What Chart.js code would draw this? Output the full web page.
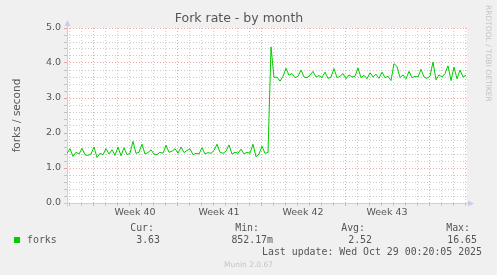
<!DOCTYPE html>
<html>
<head>
<meta charset="utf-8">
<title>Fork rate - by month</title>
<script src="https://cdn.jsdelivr.net/npm/chart.js@4/dist/chart.umd.min.js"></script>
<style>
html, body { margin: 0; padding: 0; background: #f0f0f0; }
#wrap { position: relative; width: 497px; height: 275px; overflow: hidden; }
#wrap canvas { position: absolute; left: 0; top: 0; }
.mono { position: absolute; font-family: "DejaVu Sans Mono", monospace; font-size: 9.9px; color: #555; line-height: 12px; white-space: pre; }
.swatch { position: absolute; left: 14px; top: 237px; width: 6px; height: 6px; background: #00cc00; }
.brand { position: absolute; font-family: "DejaVu Sans", sans-serif; font-size: 7.5px; color: #c4c4c4; white-space: nowrap; }
#rrd { left: 484px; top: 5px; writing-mode: vertical-rl; }
#ver { left: 0; width: 497px; top: 260px; text-align: center; }
</style>
</head>
<body>
<div id="wrap">
    <canvas id="forkChart" width="497" height="275"></canvas>
    <div class="brand" id="rrd">RRDTOOL / TOBI OETIKER</div>
    <div class="swatch"></div>
    <div class="mono" style="left:27px; top:234px;">forks</div>
    <div class="mono" id="lastUpdate" style="right:15px; top:246px;"></div>
    <div class="brand" id="ver">Munin 2.0.67</div>
</div>
<script>
// Samples every 6 hours (forks per second)
const forksValues = [
    1.42, 1.55, 1.33, 1.45, 1.40, 1.56, 1.38, 1.36, 1.40, 1.60,
    1.30, 1.42, 1.38, 1.55, 1.40, 1.52, 1.36, 1.60, 1.35, 1.58,
    1.38, 1.42, 1.76, 1.42, 1.45, 1.68, 1.40, 1.44, 1.52, 1.40,
    1.38, 1.45, 1.42, 1.65, 1.45, 1.48, 1.55, 1.42, 1.60, 1.44,
    1.50, 1.55, 1.38, 1.42, 1.40, 1.58, 1.40, 1.44, 1.42, 1.50,
    1.68, 1.45, 1.42, 1.48, 1.66, 1.40, 1.45, 1.42, 1.54, 1.40,
    1.45, 1.42, 1.68, 1.32, 1.40, 1.62, 1.42, 1.44,
    4.46,
    3.58, 3.60, 3.48, 3.62, 3.85, 3.65, 3.70, 3.58, 3.62, 3.80,
    3.60, 3.58, 3.65, 3.76, 3.60, 3.64, 3.58, 3.74, 3.56, 3.60,
    3.84, 3.58, 3.62, 3.70, 3.55, 3.66, 3.60, 3.62, 3.86, 3.58,
    3.65, 3.55, 3.72, 3.60, 3.68, 3.56, 3.74, 3.58, 3.62, 3.50,
    3.98, 3.90, 3.58, 3.66, 3.55, 3.76, 3.58, 3.62, 3.60, 3.82,
    3.60, 3.56, 3.62, 4.03, 3.52, 3.66, 3.60, 3.70, 3.92, 3.50,
    3.88, 3.55, 3.80, 3.60, 3.65
];
const sampleStepDays = 0.25;

// Time axis in days from the left edge of the graph
const rangeDays = 33.333;
const weekStartDays = [2.167, 9.167, 16.167, 23.167, 30.167];
const weekLabelDays = [5.667, 12.667, 19.667, 26.667];
const weekLabels = ['Week 40', 'Week 41', 'Week 42', 'Week 43'];

const yMax = 5;
const yStep = 0.2;

// Legend numbers
const statNames = ['Cur:', 'Min:', 'Avg:', 'Max:'];
const statValues = ['3.63', '852.17m', '2.52', '16.65'];
const lastUpdate = 'Last update: Wed Oct 29 00:20:05 2025';

const minorColor = 'rgba(140,140,140,0.45)';
const majorColor = 'rgba(225,80,80,0.5)';
const axisColor = '#c8cef0';

const near = (a, b) => Math.abs(a - b) < 1e-3;

// one grid line per day, plus label-only ticks in the middle of each week
const dayLines = [];
for (let d = weekStartDays[0] - 2; d < rangeDays; d += 1) dayLines.push(+d.toFixed(3));
const xTicks = dayLines.concat(weekLabelDays).sort((a, b) => a - b);

const isWeekStart = v => weekStartDays.some(d => near(d, v));
const isLabelTick = v => weekLabelDays.some(d => near(d, v));

const points = forksValues.map((v, i) => ({ x: i * sampleStepDays, y: v }));

const muninPlugin = {
    id: 'munin',
    beforeDraw(chart) {
        const { ctx, chartArea: a } = chart;
        ctx.save();
        ctx.fillStyle = '#ffffff';
        ctx.fillRect(a.left, a.top, a.right - a.left, a.bottom - a.top);
        ctx.restore();
    },
    beforeDatasetsDraw(chart) {
        const { ctx, chartArea: a } = chart;
        const x0 = Math.round(a.left) + 0.5;
        const y0 = Math.round(a.bottom) + 0.5;
        ctx.save();
        ctx.strokeStyle = axisColor;
        ctx.fillStyle = axisColor;
        ctx.lineWidth = 1;
        ctx.beginPath();
        ctx.moveTo(x0, y0 + 3);
        ctx.lineTo(x0, a.top - 4);
        ctx.moveTo(x0 - 3, y0);
        ctx.lineTo(a.right + 3, y0);
        ctx.stroke();
        // arrow heads
        ctx.beginPath();
        ctx.moveTo(x0, a.top - 8);
        ctx.lineTo(x0 - 3, a.top - 2);
        ctx.lineTo(x0 + 3, a.top - 2);
        ctx.closePath();
        ctx.fill();
        ctx.beginPath();
        ctx.moveTo(a.right + 7, y0);
        ctx.lineTo(a.right + 1, y0 - 3);
        ctx.lineTo(a.right + 1, y0 + 3);
        ctx.closePath();
        ctx.fill();
        ctx.restore();
    }
};

const tickFont = { family: 'DejaVu Sans', size: 9.5 };

new Chart(document.getElementById('forkChart'), {
    type: 'line',
    data: {
        datasets: [{
            label: 'forks',
            data: points,
            borderColor: '#00cc00',
            borderWidth: 1,
            pointRadius: 0,
            tension: 0,
            fill: false
        }]
    },
    options: {
        responsive: false,
        animation: false,
        layout: { padding: { left: 11, right: 30, top: 0, bottom: 0 } },
        plugins: {
            legend: { display: false },
            tooltip: { enabled: false },
            title: {
                display: true,
                text: 'Fork rate - by month',
                color: '#555',
                font: { family: 'DejaVu Sans', size: 12.5, weight: 'normal', lineHeight: 1.2 },
                padding: { top: 11, bottom: 2 }
            }
        },
        scales: {
            x: {
                type: 'linear',
                min: 0,
                max: rangeDays,
                afterBuildTicks: scale => { scale.ticks = xTicks.map(v => ({ value: v })); },
                afterFit: scale => { scale.height = 72; },
                ticks: {
                    autoSkip: false,
                    maxRotation: 0,
                    padding: 1,
                    color: '#555',
                    font: tickFont,
                    callback: v => {
                        const i = weekLabelDays.findIndex(d => near(d, v));
                        return i >= 0 ? weekLabels[i] : '';
                    }
                },
                grid: {
                    lineWidth: 1,
                    tickLength: 3,
                    color: ctx => isLabelTick(ctx.tick.value) ? 'rgba(0,0,0,0)' : (isWeekStart(ctx.tick.value) ? majorColor : minorColor),
                    tickColor: ctx => isLabelTick(ctx.tick.value) ? 'rgba(0,0,0,0)' : (isWeekStart(ctx.tick.value) ? majorColor : minorColor)
                },
                border: { display: false, dash: [1, 2] }
            },
            y: {
                min: 0,
                max: yMax,
                afterFit: scale => { scale.width = 56; },
                ticks: {
                    stepSize: yStep,
                    autoSkip: false,
                    padding: 3,
                    color: '#555',
                    font: tickFont,
                    callback: v => near(v, Math.round(v)) ? Math.round(v).toFixed(1) : ''
                },
                title: {
                    display: true,
                    text: 'forks / second',
                    color: '#555',
                    font: { family: 'DejaVu Sans', size: 10.5 },
                    padding: { top: 0, bottom: 0 }
                },
                grid: {
                    lineWidth: 1,
                    tickLength: 3,
                    color: ctx => near(ctx.tick.value, Math.round(ctx.tick.value)) ? majorColor : minorColor,
                    tickColor: ctx => near(ctx.tick.value, Math.round(ctx.tick.value)) ? majorColor : minorColor
                },
                border: { display: false, dash: [1, 2] }
            }
        }
    },
    plugins: [muninPlugin]
});

// Legend columns under the graph, right aligned like Munin
const wrap = document.getElementById('wrap');
const headRight = [154, 259, 365, 470];
const valueRight = [160, 273, 372, 477];
statNames.forEach((name, i) => {
    const h = document.createElement('div');
    h.className = 'mono';
    h.style.right = (497 - headRight[i]) + 'px';
    h.style.top = '222px';
    h.textContent = name;
    wrap.appendChild(h);
    const v = document.createElement('div');
    v.className = 'mono';
    v.style.right = (497 - valueRight[i]) + 'px';
    v.style.top = '234px';
    v.textContent = statValues[i];
    wrap.appendChild(v);
});
document.getElementById('lastUpdate').textContent = lastUpdate;
</script>
</body>
</html>
